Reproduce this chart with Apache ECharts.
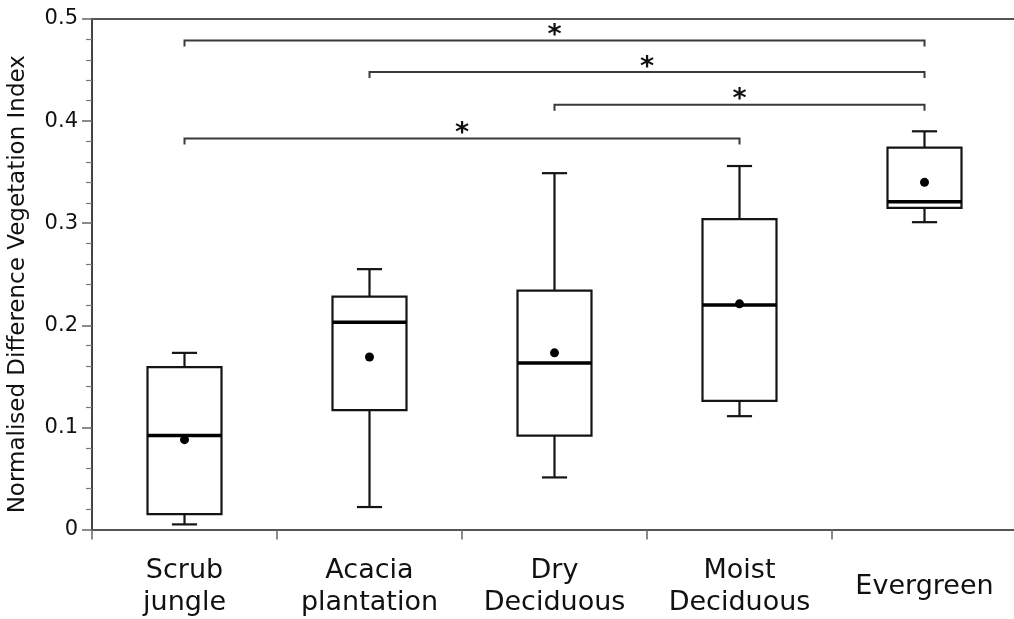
<!DOCTYPE html>
<html>
<head>
<meta charset="utf-8">
<script src="https://cdn.jsdelivr.net/npm/echarts@6/dist/echarts.min.js"></script>
<style>
  html, body { margin: 0; padding: 0; background: #fff; }
  #chart { width: 1014px; height: 619px; }
</style>
</head>
<body>
<div id="chart"></div>
<script>
const categories = ['Scrub\njungle', 'Acacia\nplantation', 'Dry\nDeciduous', 'Moist\nDeciduous', 'Evergreen'];
const whiskerLow  = [0.005, 0.022, 0.051, 0.111, 0.301];
const quartile1   = [0.015, 0.117, 0.092, 0.126, 0.315];
const medians     = [0.092, 0.203, 0.163, 0.220, 0.321];
const quartile3   = [0.159, 0.228, 0.234, 0.304, 0.374];
const whiskerHigh = [0.173, 0.255, 0.349, 0.356, 0.390];
const means       = [0.088, 0.169, 0.173, 0.221, 0.340];

const bracketFrom  = [0, 1, 2, 0];
const bracketTo    = [4, 4, 4, 3];
const bracketLevel = [0.479, 0.448, 0.416, 0.383];
const bracketLabel = ['*', '*', '*', '*'];

const yTicks = { min: 0, max: 0.5, interval: 0.1 };

const boxData = categories.map((c, i) => [i, whiskerLow[i], quartile1[i], medians[i], quartile3[i], whiskerHigh[i]]);
const bracketData = bracketFrom.map((f, i) => [f, bracketTo[i], bracketLevel[i], bracketLabel[i]]);

const FONT = 'DejaVu Sans';
const chart = echarts.init(document.getElementById('chart'));

chart.setOption({
  animation: false,
  backgroundColor: '#fff',
  grid: { left: 92, top: 19, width: 925, height: 510.5, outerBoundsMode: 'none', containLabel: false },
  xAxis: [{
    type: 'category',
    data: categories,
    boundaryGap: true,
    axisLine: { lineStyle: { color: '#555', width: 2 } },
    axisTick: { show: true, length: 10, lineStyle: { color: '#666', width: 1.5 } },
    axisLabel: {
      color: '#111', fontFamily: FONT, fontSize: 27, lineHeight: 32,
      verticalAlign: 'middle', margin: 57.5, interval: 0
    },
    splitLine: { show: false }
  }, {
    type: 'category',
    data: categories,
    position: 'top',
    axisLine: { lineStyle: { color: '#555', width: 2 } },
    axisTick: { show: false },
    axisLabel: { show: false }
  }],
  yAxis: {
    type: 'value',
    min: yTicks.min, max: yTicks.max, interval: yTicks.interval,
    name: 'Normalised Difference Vegetation Index',
    nameLocation: 'middle',
    nameGap: 62,
    nameRotate: 90,
    nameTextStyle: { color: '#111', fontFamily: FONT, fontSize: 23, padding: [0, 20, 0, 0] },
    axisLine: { show: true, lineStyle: { color: '#444', width: 2 } },
    axisTick: { show: true, length: 10, lineStyle: { color: '#666', width: 1.5 } },
    minorTick: { show: true, splitNumber: 5, length: 6, lineStyle: { color: '#777', width: 1.2 } },
    axisLabel: { color: '#111', fontFamily: FONT, fontSize: 21, margin: 14 },
    splitLine: { show: false }
  },
  series: [{
    type: 'custom',
    name: 'boxes',
    xAxisIndex: 0,
    data: boxData,
    encode: { x: 0, y: [1, 2, 3, 4, 5] },
    renderItem: function (params, api) {
      const i = api.value(0);
      const band = api.size([1, 0])[0];
      const half = band * 0.2;
      const capHalf = band * 0.068;
      const x = api.coord([i, 0])[0];
      const yLo = api.coord([i, api.value(1)])[1];
      const yQ1 = api.coord([i, api.value(2)])[1];
      const yMed = api.coord([i, api.value(3)])[1];
      const yQ3 = api.coord([i, api.value(4)])[1];
      const yHi = api.coord([i, api.value(5)])[1];
      const st = { stroke: '#141414', lineWidth: 2.2, fill: null };
      return {
        type: 'group',
        children: [
          { type: 'line', shape: { x1: x, y1: yHi, x2: x, y2: yQ3 }, style: st },
          { type: 'line', shape: { x1: x, y1: yQ1, x2: x, y2: yLo }, style: st },
          { type: 'line', shape: { x1: x - capHalf, y1: yHi, x2: x + capHalf, y2: yHi }, style: st },
          { type: 'line', shape: { x1: x - capHalf, y1: yLo, x2: x + capHalf, y2: yLo }, style: st },
          { type: 'rect', shape: { x: x - half, y: yQ3, width: half * 2, height: yQ1 - yQ3 }, style: { stroke: '#141414', lineWidth: 2.2, fill: 'rgba(0,0,0,0)' } },
          { type: 'line', shape: { x1: x - half, y1: yMed, x2: x + half, y2: yMed }, style: { stroke: '#000', lineWidth: 3.5 } }
        ]
      };
    }
  }, {
    type: 'scatter',
    name: 'mean',
    data: means,
    symbol: 'circle',
    symbolSize: 9,
    itemStyle: { color: '#000', opacity: 1 },
    z: 5
  }, {
    type: 'custom',
    name: 'brackets',
    data: bracketData,
    encode: { x: [0, 1], y: 2 },
    renderItem: function (params, api) {
      const p1 = api.coord([api.value(0), api.value(2)]);
      const p2 = api.coord([api.value(1), api.value(2)]);
      const st = { stroke: '#3a3a3a', lineWidth: 2, fill: null };
      const drop = 6;
      return {
        type: 'group',
        children: [
          { type: 'polyline', shape: { points: [[p1[0], p1[1] + drop], [p1[0], p1[1]], [p2[0], p2[1]], [p2[0], p2[1] + drop]] }, style: st },
          { type: 'text', x: (p1[0] + p2[0]) / 2, y: p1[1] + 9, style: { text: bracketLabel[params.dataIndex], fontFamily: FONT, fontSize: 27, fontWeight: 'bold', fill: '#111', align: 'center', verticalAlign: 'bottom' } }
        ]
      };
    }
  }]
});
</script>
</body>
</html>
